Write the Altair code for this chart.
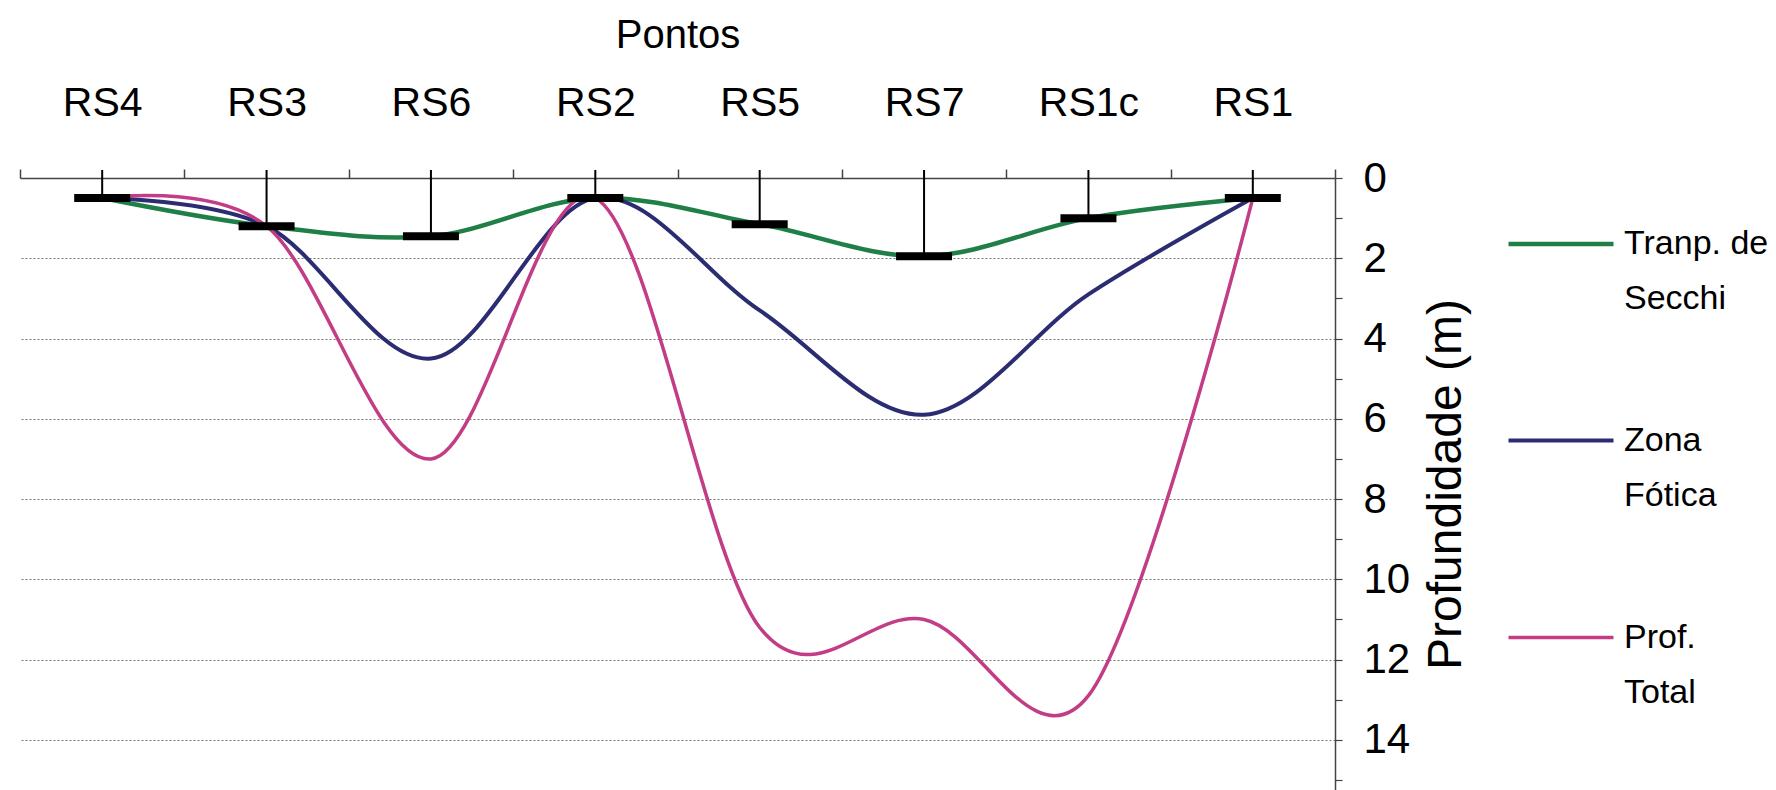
import altair as alt
import pandas as pd

# Sampling points along the transect, in the order they are plotted
pontos = ["RS4", "RS3", "RS6", "RS2", "RS5", "RS7", "RS1c", "RS1"]

# Depths in metres at each point
secchi = [0.5, 1.2, 1.45, 0.5, 1.15, 1.95, 1.0, 0.5]
zona_fotica = [0.5, 1.2, 4.5, 0.5, 3.3, 5.9, 2.9, 0.5]
prof_total = [0.5, 1.2, 7.0, 0.5, 11.2, 11.0, 12.9, 0.5]

series_names = ["Tranp. de Secchi", "Zona Fótica", "Prof. Total"]
series_colors = ["#1f7f47", "#2b2c72", "#c23d85"]
series_widths = [4.5, 3.5, 3.0]

depth_ticks = list(range(0, 16))

df = pd.DataFrame({
    "ponto": pontos * 3,
    "serie": [s for s in series_names for _ in pontos],
    "prof": secchi + zona_fotica + prof_total,
})

FONT = "Liberation Sans"

x_enc = alt.X(
    "ponto:N",
    sort=pontos,
    scale=alt.Scale(type="band", paddingInner=0, paddingOuter=0),
    axis=alt.Axis(
        orient="top",
        title="Pontos",
        titleFontSize=40,
        titleFontWeight="normal",
        titleColor="black",
        titleY=-131,
        titleBaseline="alphabetic",
        labelAngle=0,
        labelFontSize=41,
        labelColor="black",
        labelBaseline="alphabetic",
        labelPadding=54,
        tickBand="extent",
        tickSize=9,
        tickColor="#444444",
        tickWidth=1.5,
        domainColor="#444444",
        domainWidth=1.5,
        grid=False,
    ),
)

y_enc = alt.Y(
    "prof:Q",
    scale=alt.Scale(domain=[0, 15.25], reverse=True, nice=False, zero=False),
    axis=alt.Axis(
        orient="right",
        values=depth_ticks,
        labelExpr="datum.value % 2 == 0 ? datum.label : ''",
        labelFontSize=42,
        labelColor="black",
        labelAlign="left",
        labelBaseline="middle",
        labelPadding=21,
        tickSize=7,
        tickColor="#444444",
        tickWidth=1.2,
        domainColor="#444444",
        domainWidth=1.5,
        grid=True,
        gridColor="#777777",
        gridDash=[2, 2],
        gridWidth=1,
        gridOpacity={
            "condition": {"test": "datum.value % 2 == 1 || datum.value == 0", "value": 0},
            "value": 1,
        },
        title="Profundidade (m)",
        titleFontSize=48,
        titleFontWeight="normal",
        titleColor="black",
        titleAngle=270,
        titleAlign="center",
        titleBaseline="middle",
        titleX=111,
        titleY=306,
    ),
)

lines = alt.Chart(df).mark_line(interpolate="cardinal", strokeJoin="round").encode(
    x=x_enc,
    y=y_enc,
    color=alt.Color(
        "serie:N",
        sort=series_names,
        scale=alt.Scale(domain=series_names, range=series_colors),
        legend=alt.Legend(
            title=None,
            orient="none",
            legendX=1486,
            legendY=11,
            padding=0,
            symbolType="stroke",
            symbolSize=11025,
            symbolStrokeWidth=4.5,
            labelFontSize=34,
            labelColor="black",
            labelOffset=8,
            labelLimit=400,
            labelBaseline="middle",
            rowPadding=70,
            labelExpr=(
                "[substring(datum.label, 0, lastindexof(datum.label, ' ')), "
                "substring(datum.label, lastindexof(datum.label, ' ') + 1)]"
            ),
        ),
    ),
    strokeWidth=alt.StrokeWidth(
        "serie:N",
        scale=alt.Scale(domain=series_names, range=series_widths),
        legend=None,
    ),
)

secchi_only = alt.Chart(df).transform_filter(alt.datum.serie == "Tranp. de Secchi")

drop_lines = secchi_only.mark_rule(color="black", strokeWidth=2).encode(
    x=alt.X("ponto:N", sort=pontos),
    y=alt.Y("prof:Q"),
    y2=alt.value(-8),
)

disk_marks = secchi_only.mark_tick(color="black", thickness=8, size=56, opacity=1).encode(
    x=alt.X("ponto:N", sort=pontos),
    y=alt.Y("prof:Q"),
)

chart = (
    alt.layer(lines, drop_lines, disk_marks)
    .properties(
        width=1315,
        height=612,
        padding={"left": 20, "top": 178, "right": 441, "bottom": 0},
        autosize=alt.AutoSizeParams(type="none"),
        background="white",
    )
    .configure(style={"guide-label": {"lineHeight": 55}})
    .configure_axis(labelFont=FONT, titleFont=FONT)
    .configure_legend(labelFont=FONT)
    .configure_view(strokeWidth=0)
)

chart.save("out.html", embed_options={"renderer": "svg", "actions": False})
